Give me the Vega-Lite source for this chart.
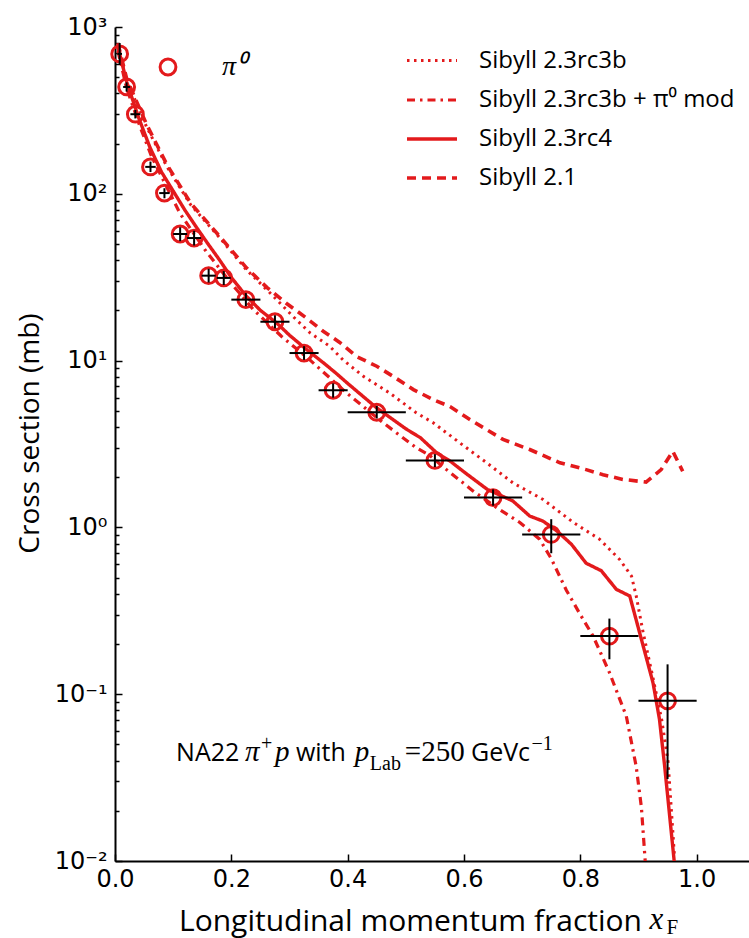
{
  "$schema": "https://vega.github.io/schema/vega-lite/v6.json",
  "width": 634,
  "height": 834,
  "autosize": {"type": "none"},
  "padding": {"left": 115, "top": 27, "right": 0, "bottom": 77},
  "background": "white",
  "config": {"view": {"stroke": null}, "axis": {"grid": false}},
  "datasets": {
    "curves": [
      {"model": "Sibyll 2.3rc4", "xF": 0.005, "v": 760}, {"model": "Sibyll 2.3rc4", "xF": 0.02, "v": 470}, {"model": "Sibyll 2.3rc4", "xF": 0.04, "v": 290}, {"model": "Sibyll 2.3rc4", "xF": 0.06, "v": 190}, {"model": "Sibyll 2.3rc4", "xF": 0.08, "v": 135}, {"model": "Sibyll 2.3rc4", "xF": 0.1, "v": 104}, {"model": "Sibyll 2.3rc4", "xF": 0.12, "v": 80}, {"model": "Sibyll 2.3rc4", "xF": 0.14, "v": 63}, {"model": "Sibyll 2.3rc4", "xF": 0.16, "v": 50}, {"model": "Sibyll 2.3rc4", "xF": 0.18, "v": 40}, {"model": "Sibyll 2.3rc4", "xF": 0.2, "v": 31.5}, {"model": "Sibyll 2.3rc4", "xF": 0.225, "v": 24.5}, {"model": "Sibyll 2.3rc4", "xF": 0.25, "v": 20}, {"model": "Sibyll 2.3rc4", "xF": 0.278, "v": 16.8}, {"model": "Sibyll 2.3rc4", "xF": 0.3, "v": 14.2}, {"model": "Sibyll 2.3rc4", "xF": 0.33, "v": 11.6}, {"model": "Sibyll 2.3rc4", "xF": 0.36, "v": 9.6}, {"model": "Sibyll 2.3rc4", "xF": 0.38, "v": 8.4}, {"model": "Sibyll 2.3rc4", "xF": 0.4, "v": 7.3}, {"model": "Sibyll 2.3rc4", "xF": 0.45, "v": 5.2}, {"model": "Sibyll 2.3rc4", "xF": 0.5, "v": 3.9}, {"model": "Sibyll 2.3rc4", "xF": 0.525, "v": 3.45}, {"model": "Sibyll 2.3rc4", "xF": 0.553, "v": 2.8}, {"model": "Sibyll 2.3rc4", "xF": 0.576, "v": 2.5}, {"model": "Sibyll 2.3rc4", "xF": 0.6, "v": 2.15}, {"model": "Sibyll 2.3rc4", "xF": 0.64, "v": 1.69}, {"model": "Sibyll 2.3rc4", "xF": 0.684, "v": 1.44}, {"model": "Sibyll 2.3rc4", "xF": 0.713, "v": 1.17}, {"model": "Sibyll 2.3rc4", "xF": 0.736, "v": 1.09}, {"model": "Sibyll 2.3rc4", "xF": 0.76, "v": 0.95}, {"model": "Sibyll 2.3rc4", "xF": 0.785, "v": 0.79}, {"model": "Sibyll 2.3rc4", "xF": 0.81, "v": 0.61}, {"model": "Sibyll 2.3rc4", "xF": 0.836, "v": 0.55}, {"model": "Sibyll 2.3rc4", "xF": 0.862, "v": 0.425}, {"model": "Sibyll 2.3rc4", "xF": 0.885, "v": 0.388}, {"model": "Sibyll 2.3rc4", "xF": 0.908, "v": 0.195}, {"model": "Sibyll 2.3rc4", "xF": 0.925, "v": 0.117}, {"model": "Sibyll 2.3rc4", "xF": 0.936, "v": 0.071}, {"model": "Sibyll 2.3rc4", "xF": 0.945, "v": 0.037}, {"model": "Sibyll 2.3rc4", "xF": 0.962, "v": 0.0095},
      {"model": "Sibyll 2.3rc3b + π⁰ mod", "xF": 0.005, "v": 720}, {"model": "Sibyll 2.3rc3b + π⁰ mod", "xF": 0.02, "v": 430}, {"model": "Sibyll 2.3rc3b + π⁰ mod", "xF": 0.043, "v": 253}, {"model": "Sibyll 2.3rc3b + π⁰ mod", "xF": 0.063, "v": 167}, {"model": "Sibyll 2.3rc3b + π⁰ mod", "xF": 0.09, "v": 108}, {"model": "Sibyll 2.3rc3b + π⁰ mod", "xF": 0.112, "v": 76}, {"model": "Sibyll 2.3rc3b + π⁰ mod", "xF": 0.157, "v": 45}, {"model": "Sibyll 2.3rc3b + π⁰ mod", "xF": 0.2, "v": 29}, {"model": "Sibyll 2.3rc3b + π⁰ mod", "xF": 0.238, "v": 20.2}, {"model": "Sibyll 2.3rc3b + π⁰ mod", "xF": 0.286, "v": 14}, {"model": "Sibyll 2.3rc3b + π⁰ mod", "xF": 0.335, "v": 10.1}, {"model": "Sibyll 2.3rc3b + π⁰ mod", "xF": 0.398, "v": 6.4}, {"model": "Sibyll 2.3rc3b + π⁰ mod", "xF": 0.461, "v": 4.24}, {"model": "Sibyll 2.3rc3b + π⁰ mod", "xF": 0.518, "v": 3.0}, {"model": "Sibyll 2.3rc3b + π⁰ mod", "xF": 0.541, "v": 2.7}, {"model": "Sibyll 2.3rc3b + π⁰ mod", "xF": 0.57, "v": 2.22}, {"model": "Sibyll 2.3rc3b + π⁰ mod", "xF": 0.616, "v": 1.65}, {"model": "Sibyll 2.3rc3b + π⁰ mod", "xF": 0.661, "v": 1.28}, {"model": "Sibyll 2.3rc3b + π⁰ mod", "xF": 0.696, "v": 1.07}, {"model": "Sibyll 2.3rc3b + π⁰ mod", "xF": 0.73, "v": 0.85}, {"model": "Sibyll 2.3rc3b + π⁰ mod", "xF": 0.75, "v": 0.65}, {"model": "Sibyll 2.3rc3b + π⁰ mod", "xF": 0.776, "v": 0.42}, {"model": "Sibyll 2.3rc3b + π⁰ mod", "xF": 0.8, "v": 0.3}, {"model": "Sibyll 2.3rc3b + π⁰ mod", "xF": 0.822, "v": 0.223}, {"model": "Sibyll 2.3rc3b + π⁰ mod", "xF": 0.85, "v": 0.135}, {"model": "Sibyll 2.3rc3b + π⁰ mod", "xF": 0.879, "v": 0.074}, {"model": "Sibyll 2.3rc3b + π⁰ mod", "xF": 0.896, "v": 0.037}, {"model": "Sibyll 2.3rc3b + π⁰ mod", "xF": 0.905, "v": 0.021}, {"model": "Sibyll 2.3rc3b + π⁰ mod", "xF": 0.912, "v": 0.0095},
      {"model": "Sibyll 2.3rc3b", "xF": 0.005, "v": 780}, {"model": "Sibyll 2.3rc3b", "xF": 0.02, "v": 480}, {"model": "Sibyll 2.3rc3b", "xF": 0.054, "v": 253}, {"model": "Sibyll 2.3rc3b", "xF": 0.089, "v": 146}, {"model": "Sibyll 2.3rc3b", "xF": 0.13, "v": 86}, {"model": "Sibyll 2.3rc3b", "xF": 0.18, "v": 54.5}, {"model": "Sibyll 2.3rc3b", "xF": 0.226, "v": 35}, {"model": "Sibyll 2.3rc3b", "xF": 0.261, "v": 26.6}, {"model": "Sibyll 2.3rc3b", "xF": 0.278, "v": 23.2}, {"model": "Sibyll 2.3rc3b", "xF": 0.306, "v": 18.4}, {"model": "Sibyll 2.3rc3b", "xF": 0.335, "v": 14.7}, {"model": "Sibyll 2.3rc3b", "xF": 0.369, "v": 12.2}, {"model": "Sibyll 2.3rc3b", "xF": 0.392, "v": 10.1}, {"model": "Sibyll 2.3rc3b", "xF": 0.427, "v": 8.05}, {"model": "Sibyll 2.3rc3b", "xF": 0.472, "v": 6.4}, {"model": "Sibyll 2.3rc3b", "xF": 0.518, "v": 4.86}, {"model": "Sibyll 2.3rc3b", "xF": 0.547, "v": 4.24}, {"model": "Sibyll 2.3rc3b", "xF": 0.593, "v": 3.21}, {"model": "Sibyll 2.3rc3b", "xF": 0.639, "v": 2.44}, {"model": "Sibyll 2.3rc3b", "xF": 0.684, "v": 1.85}, {"model": "Sibyll 2.3rc3b", "xF": 0.736, "v": 1.47}, {"model": "Sibyll 2.3rc3b", "xF": 0.788, "v": 1.07}, {"model": "Sibyll 2.3rc3b", "xF": 0.833, "v": 0.85}, {"model": "Sibyll 2.3rc3b", "xF": 0.868, "v": 0.64}, {"model": "Sibyll 2.3rc3b", "xF": 0.888, "v": 0.51}, {"model": "Sibyll 2.3rc3b", "xF": 0.896, "v": 0.39}, {"model": "Sibyll 2.3rc3b", "xF": 0.908, "v": 0.234}, {"model": "Sibyll 2.3rc3b", "xF": 0.925, "v": 0.125}, {"model": "Sibyll 2.3rc3b", "xF": 0.94, "v": 0.07}, {"model": "Sibyll 2.3rc3b", "xF": 0.951, "v": 0.039}, {"model": "Sibyll 2.3rc3b", "xF": 0.962, "v": 0.0105},
      {"model": "Sibyll 2.1", "xF": 0.005, "v": 800}, {"model": "Sibyll 2.1", "xF": 0.02, "v": 490}, {"model": "Sibyll 2.1", "xF": 0.054, "v": 262}, {"model": "Sibyll 2.1", "xF": 0.089, "v": 150}, {"model": "Sibyll 2.1", "xF": 0.13, "v": 88}, {"model": "Sibyll 2.1", "xF": 0.18, "v": 55.5}, {"model": "Sibyll 2.1", "xF": 0.226, "v": 36}, {"model": "Sibyll 2.1", "xF": 0.261, "v": 27.5}, {"model": "Sibyll 2.1", "xF": 0.295, "v": 22}, {"model": "Sibyll 2.1", "xF": 0.329, "v": 18}, {"model": "Sibyll 2.1", "xF": 0.358, "v": 15}, {"model": "Sibyll 2.1", "xF": 0.387, "v": 12.8}, {"model": "Sibyll 2.1", "xF": 0.415, "v": 10.6}, {"model": "Sibyll 2.1", "xF": 0.45, "v": 9.25}, {"model": "Sibyll 2.1", "xF": 0.478, "v": 8.05}, {"model": "Sibyll 2.1", "xF": 0.513, "v": 6.7}, {"model": "Sibyll 2.1", "xF": 0.547, "v": 5.84}, {"model": "Sibyll 2.1", "xF": 0.576, "v": 5.3}, {"model": "Sibyll 2.1", "xF": 0.61, "v": 4.43}, {"model": "Sibyll 2.1", "xF": 0.667, "v": 3.37}, {"model": "Sibyll 2.1", "xF": 0.713, "v": 2.93}, {"model": "Sibyll 2.1", "xF": 0.765, "v": 2.44}, {"model": "Sibyll 2.1", "xF": 0.81, "v": 2.22}, {"model": "Sibyll 2.1", "xF": 0.839, "v": 2.07}, {"model": "Sibyll 2.1", "xF": 0.873, "v": 1.94}, {"model": "Sibyll 2.1", "xF": 0.913, "v": 1.87}, {"model": "Sibyll 2.1", "xF": 0.939, "v": 2.22}, {"model": "Sibyll 2.1", "xF": 0.959, "v": 2.86}, {"model": "Sibyll 2.1", "xF": 0.976, "v": 2.17}
    ],
    "points": [
      {"series": "π⁰", "xF": 0.008, "v": 690, "xlo": 0.004, "xhi": 0.012, "ylo": 592, "yhi": 802},
      {"series": "π⁰", "xF": 0.02, "v": 437, "xlo": 0.014, "xhi": 0.026, "ylo": 410, "yhi": 466},
      {"series": "π⁰", "xF": 0.035, "v": 300, "xlo": 0.0265, "xhi": 0.0435, "ylo": 283, "yhi": 318},
      {"series": "π⁰", "xF": 0.061, "v": 145, "xlo": 0.052, "xhi": 0.07, "ylo": 135, "yhi": 156},
      {"series": "π⁰", "xF": 0.085, "v": 101, "xlo": 0.076, "xhi": 0.094, "ylo": 94, "yhi": 108},
      {"series": "π⁰", "xF": 0.112, "v": 57.4, "xlo": 0.1, "xhi": 0.124, "ylo": 52, "yhi": 63},
      {"series": "π⁰", "xF": 0.136, "v": 54.3, "xlo": 0.124, "xhi": 0.148, "ylo": 49, "yhi": 60},
      {"series": "π⁰", "xF": 0.161, "v": 32.3, "xlo": 0.149, "xhi": 0.173, "ylo": 29.4, "yhi": 35.5},
      {"series": "π⁰", "xF": 0.187, "v": 31.3, "xlo": 0.175, "xhi": 0.199, "ylo": 28.4, "yhi": 34.4},
      {"series": "π⁰", "xF": 0.225, "v": 23.2, "xlo": 0.2, "xhi": 0.25, "ylo": 21.2, "yhi": 25.4},
      {"series": "π⁰", "xF": 0.275, "v": 17.1, "xlo": 0.25, "xhi": 0.3, "ylo": 15.6, "yhi": 18.7},
      {"series": "π⁰", "xF": 0.325, "v": 11.1, "xlo": 0.3, "xhi": 0.35, "ylo": 10.1, "yhi": 12.2},
      {"series": "π⁰", "xF": 0.375, "v": 6.64, "xlo": 0.35, "xhi": 0.4, "ylo": 6.0, "yhi": 7.3},
      {"series": "π⁰", "xF": 0.45, "v": 4.9, "xlo": 0.4, "xhi": 0.5, "ylo": 4.5, "yhi": 5.35},
      {"series": "π⁰", "xF": 0.55, "v": 2.52, "xlo": 0.5, "xhi": 0.6, "ylo": 2.3, "yhi": 2.75},
      {"series": "π⁰", "xF": 0.65, "v": 1.51, "xlo": 0.6, "xhi": 0.7, "ylo": 1.35, "yhi": 1.69},
      {"series": "π⁰", "xF": 0.75, "v": 0.908, "xlo": 0.7, "xhi": 0.8, "ylo": 0.7, "yhi": 1.12},
      {"series": "π⁰", "xF": 0.85, "v": 0.223, "xlo": 0.8, "xhi": 0.9, "ylo": 0.162, "yhi": 0.284},
      {"series": "π⁰", "xF": 0.95, "v": 0.0912, "xlo": 0.9, "xhi": 1.0, "ylo": 0.031, "yhi": 0.151}
    ],
    "annot": [
      {"t": "NA22", "xF": 0.105, "v": 0.0397, "style": "sans"},
      {"t": "with", "xF": 0.311, "v": 0.0397, "style": "sans"},
      {"t": "GeVc", "xF": 0.612, "v": 0.0397, "style": "sans"},
      {"t": "π", "xF": 0.2234, "v": 0.0397, "style": "ital"},
      {"t": "p", "xF": 0.2749, "v": 0.0397, "style": "ital"},
      {"t": "p", "xF": 0.4124, "v": 0.0397, "style": "ital"},
      {"t": "=250", "xF": 0.4983, "v": 0.0397, "style": "serif"},
      {"t": "+", "xF": 0.2509, "v": 0.0462, "style": "small"},
      {"t": "−1", "xF": 0.716, "v": 0.0462, "style": "small"},
      {"t": "Lab", "xF": 0.4381, "v": 0.0352, "style": "small"},
      {"t": "x", "xF": 0.919, "v": 0.00392, "style": "xt"},
      {"t": "F", "xF": 0.948, "v": 0.00366, "style": "ft"}
    ]
  },
  "resolve": {"scale": {"y": "shared", "x": "shared"}, "axis": {"y": "independent"}},
  "layer": [
    {
      "data": {"name": "curves"},
      "mark": {"type": "line", "color": "#e31a1c", "clip": true},
      "encoding": {
        "x": {
          "field": "xF", "type": "quantitative",
          "scale": {"domain": [0, 1.09], "nice": false, "zero": false},
          "axis": {
            "values": [0, 0.2, 0.4, 0.6, 0.8, 1.0], "format": ".1f",
            "tickSize": -7, "tickWidth": 1.5, "tickColor": "black",
            "domainColor": "black", "domainWidth": 2,
            "labelFont": "DejaVu Sans", "labelFontSize": 24, "labelColor": "black", "labelPadding": 13, "labelFlush": false,
            "title": "Longitudinal momentum fraction", "titleFont": "Open Sans", "titleFontSize": 30, "titleFontWeight": "normal", "titleColor": "black",
            "titleX": 295, "titleY": 69, "titleAlign": "center", "titleBaseline": "alphabetic", "titleAnchor": null
          }
        },
        "y": {
          "field": "v", "type": "quantitative",
          "scale": {"type": "log", "domain": [0.01, 1000], "nice": false, "zero": false},
          "axis": {
            "orient": "left",
            "values": [0.01, 0.1, 1, 10, 100, 1000],
            "labelExpr": "datum.value >= 999 ? '10³' : datum.value >= 99 ? '10²' : datum.value >= 9 ? '10¹' : datum.value >= 0.9 ? '10⁰' : datum.value >= 0.09 ? '10⁻¹' : '10⁻²'",
            "tickSize": -7, "tickWidth": 1.5, "tickColor": "black",
            "domainColor": "black", "domainWidth": 2,
            "labelFont": "DejaVu Sans", "labelFontSize": 24, "labelColor": "black", "labelPadding": 15, "labelFlush": false, "labelOverlap": false,
            "title": "Cross section (mb)", "titleFont": "Open Sans", "titleFontSize": 28, "titleFontWeight": "normal", "titleColor": "black",
            "titleX": -85, "titleY": 406, "titleAngle": -90, "titleAlign": "center", "titleBaseline": "middle", "titleAnchor": null
          }
        },
        "strokeDash": {
          "field": "model", "type": "nominal",
          "scale": {"domain": ["Sibyll 2.3rc3b", "Sibyll 2.3rc3b + π⁰ mod", "Sibyll 2.3rc4", "Sibyll 2.1"], "range": [[2.5, 4.5], [8, 5, 2.5, 5], [1, 0], [9, 6]]},
          "legend": {
            "orient": "none", "legendX": 290, "legendY": 7, "title": null,
            "symbolType": "stroke", "symbolSize": 2500, "symbolStrokeWidth": 2.8, "symbolStrokeColor": "#e31a1c",
            "labelFont": "Open Sans", "labelFontSize": 24, "labelColor": "black", "labelOffset": 20, "labelLimit": 400, "rowPadding": -12
          }
        },
        "strokeWidth": {
          "field": "model", "type": "nominal",
          "scale": {"domain": ["Sibyll 2.3rc3b", "Sibyll 2.3rc3b + π⁰ mod", "Sibyll 2.3rc4", "Sibyll 2.1"], "range": [3, 3.6, 2.3, 2.2]},
          "legend": null
        }
      }
    },
    {
      "data": {"name": "points"},
      "mark": {"type": "point", "shape": "circle", "filled": false, "color": "#e31a1c", "opacity": 1, "strokeWidth": 3, "size": 250},
      "encoding": {
        "x": {"field": "xF", "type": "quantitative"},
        "y": {
          "field": "v", "type": "quantitative",
          "axis": {
            "orient": "left",
            "values": [0.02, 0.03, 0.04, 0.05, 0.06, 0.07, 0.08, 0.09, 0.2, 0.3, 0.4, 0.5, 0.6, 0.7, 0.8, 0.9, 2, 3, 4, 5, 6, 7, 8, 9, 20, 30, 40, 50, 60, 70, 80, 90, 200, 300, 400, 500, 600, 700, 800, 900],
            "labels": false, "domain": false, "title": null,
            "tickSize": -4, "tickWidth": 1.5, "tickColor": "black"
          }
        },
        "shape": {
          "field": "series", "type": "nominal",
          "scale": {"range": ["circle"]},
          "legend": {
            "orient": "none", "legendX": 39, "legendY": 26, "title": null,
            "symbolSize": 250, "symbolStrokeWidth": 3, "symbolStrokeColor": "#e31a1c", "symbolFillColor": "transparent", "symbolOpacity": 1,
            "labelFont": "Liberation Serif", "labelFontStyle": "italic", "labelFontSize": 28, "labelColor": "black", "labelOffset": 40
          }
        }
      }
    },
    {
      "data": {"name": "points"},
      "mark": {"type": "rule", "color": "black", "strokeWidth": 2},
      "encoding": {
        "x": {"field": "xlo", "type": "quantitative"},
        "x2": {"field": "xhi"},
        "y": {"field": "v", "type": "quantitative", "axis": null}
      }
    },
    {
      "data": {"name": "points"},
      "mark": {"type": "rule", "color": "black", "strokeWidth": 2},
      "encoding": {
        "x": {"field": "xF", "type": "quantitative"},
        "y": {"field": "ylo", "type": "quantitative", "axis": null},
        "y2": {"field": "yhi"}
      }
    },
    {
      "data": {"name": "annot"},
      "transform": [{"filter": "datum.style == 'sans'"}],
      "mark": {"type": "text", "font": "Open Sans", "fontSize": 25, "align": "left", "baseline": "alphabetic", "color": "black"},
      "encoding": {"x": {"field": "xF", "type": "quantitative"}, "y": {"field": "v", "type": "quantitative", "axis": null}, "text": {"field": "t"}}
    },
    {
      "data": {"name": "annot"},
      "transform": [{"filter": "datum.style == 'ital'"}],
      "mark": {"type": "text", "font": "Liberation Serif", "fontStyle": "italic", "fontSize": 29, "align": "left", "baseline": "alphabetic", "color": "black"},
      "encoding": {"x": {"field": "xF", "type": "quantitative"}, "y": {"field": "v", "type": "quantitative", "axis": null}, "text": {"field": "t"}}
    },
    {
      "data": {"name": "annot"},
      "transform": [{"filter": "datum.style == 'serif'"}],
      "mark": {"type": "text", "font": "Liberation Serif", "fontSize": 29, "align": "left", "baseline": "alphabetic", "color": "black"},
      "encoding": {"x": {"field": "xF", "type": "quantitative"}, "y": {"field": "v", "type": "quantitative", "axis": null}, "text": {"field": "t"}}
    },
    {
      "data": {"name": "annot"},
      "transform": [{"filter": "datum.style == 'small'"}],
      "mark": {"type": "text", "font": "Liberation Serif", "fontSize": 20, "align": "left", "baseline": "alphabetic", "color": "black"},
      "encoding": {"x": {"field": "xF", "type": "quantitative"}, "y": {"field": "v", "type": "quantitative", "axis": null}, "text": {"field": "t"}}
    },
    {
      "data": {"name": "annot"},
      "transform": [{"filter": "datum.style == 'xt'"}],
      "mark": {"type": "text", "font": "Liberation Serif", "fontStyle": "italic", "fontSize": 31, "align": "left", "baseline": "alphabetic", "color": "black"},
      "encoding": {"x": {"field": "xF", "type": "quantitative"}, "y": {"field": "v", "type": "quantitative", "axis": null}, "text": {"field": "t"}}
    },
    {
      "data": {"name": "annot"},
      "transform": [{"filter": "datum.style == 'ft'"}],
      "mark": {"type": "text", "font": "Liberation Serif", "fontSize": 21, "align": "left", "baseline": "alphabetic", "color": "black"},
      "encoding": {"x": {"field": "xF", "type": "quantitative"}, "y": {"field": "v", "type": "quantitative", "axis": null}, "text": {"field": "t"}}
    }
  ]
}
